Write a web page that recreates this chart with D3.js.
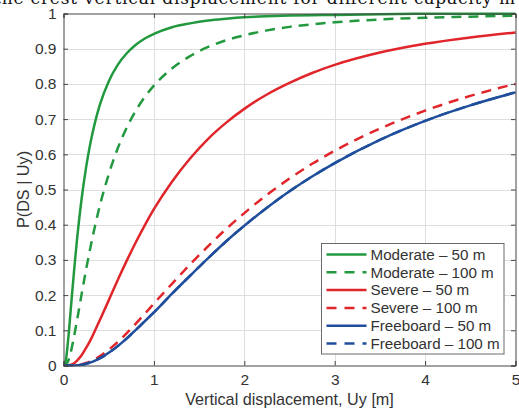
<!DOCTYPE html>
<html>
<head>
<meta charset="utf-8">
<script src="https://cdn.jsdelivr.net/npm/d3@7"></script>
<style>
  html, body { margin: 0; padding: 0; background: #ffffff; }
  svg { display: block; }
</style>
</head>
<body>
<svg id="chart" width="519" height="411"></svg>
<script>
// Vertical displacement samples (m)
const displacement = [0, 0.025, 0.05, 0.075, 0.1, 0.125, 0.15, 0.2, 0.25, 0.3, 0.35, 0.4,
  0.5, 0.6, 0.7, 0.8, 0.9, 1.0, 1.2, 1.4, 1.6, 1.8, 2.0, 2.25, 2.5, 2.75, 3.0, 3.5, 4.0, 4.5, 5.0];

// Exceedance probability P(DS | Uy) for each damage state and capacity
const moderate50 = [0, 0.014, 0.069, 0.143, 0.219, 0.292, 0.359, 0.473, 0.563, 0.635, 0.692, 0.739,
  0.807, 0.854, 0.887, 0.911, 0.929, 0.942, 0.961, 0.972, 0.980, 0.985, 0.989, 0.992, 0.994, 0.995, 0.996, 0.998, 0.999, 0.999, 0.999];
const moderate100 = [0, 0.001, 0.012, 0.032, 0.061, 0.094, 0.129, 0.202, 0.273, 0.338, 0.398, 0.452,
  0.543, 0.617, 0.676, 0.724, 0.763, 0.795, 0.844, 0.879, 0.905, 0.924, 0.938, 0.952, 0.962, 0.969, 0.975, 0.983, 0.988, 0.991, 0.994];
const severe50 = [0, 0, 0, 0.002, 0.004, 0.008, 0.014, 0.029, 0.050, 0.073, 0.100, 0.128,
  0.185, 0.243, 0.298, 0.350, 0.399, 0.444, 0.522, 0.588, 0.644, 0.690, 0.729, 0.770, 0.803, 0.831, 0.854, 0.889, 0.914, 0.932, 0.946];
const severe100 = [0, 0, 0, 0, 0, 0.001, 0.001, 0.003, 0.007, 0.012, 0.018, 0.026,
  0.045, 0.067, 0.092, 0.119, 0.147, 0.176, 0.232, 0.287, 0.339, 0.388, 0.433, 0.485, 0.531, 0.573, 0.610, 0.673, 0.724, 0.766, 0.800];
const freeboard50 = [0, 0, 0, 0, 0, 0, 0.001, 0.002, 0.005, 0.009, 0.014, 0.020,
  0.036, 0.055, 0.077, 0.101, 0.126, 0.151, 0.204, 0.255, 0.305, 0.353, 0.397, 0.448, 0.495, 0.537, 0.575, 0.641, 0.695, 0.739, 0.776];
const freeboard100 = [0, 0, 0, 0, 0, 0, 0.001, 0.002, 0.005, 0.009, 0.014, 0.020,
  0.036, 0.055, 0.077, 0.101, 0.126, 0.151, 0.204, 0.255, 0.305, 0.353, 0.397, 0.448, 0.495, 0.537, 0.575, 0.641, 0.695, 0.739, 0.776];

const seriesNames = ["Moderate \u2013 50 m", "Moderate \u2013 100 m", "Severe \u2013 50 m",
  "Severe \u2013 100 m", "Freeboard \u2013 50 m", "Freeboard \u2013 100 m"];
const seriesValues = [moderate50, moderate100, severe50, severe100, freeboard50, freeboard100];
const seriesColors = ["#22993f", "#22993f", "#e0262b", "#e0262b", "#1f4f9c", "#1f4f9c"];
const seriesDashed = [false, true, false, true, false, true];

const xTicks = [0, 1, 2, 3, 4, 5];
const xTickLabels = ["0", "1", "2", "3", "4", "5"];
const yTicks = [0, 0.1, 0.2, 0.3, 0.4, 0.5, 0.6, 0.7, 0.8, 0.9, 1];
const yTickLabels = ["0", "0.1", "0.2", "0.3", "0.4", "0.5", "0.6", "0.7", "0.8", "0.9", "1"];

const svg = d3.select("#chart");
const W = 519, H = 411;
const margin = { left: 63.5, right: 3.5, top: 13.5, bottom: 45.5 };
const pw = W - margin.left - margin.right;
const ph = H - margin.top - margin.bottom;

const x = d3.scaleLinear().domain([0, 5]).range([margin.left, margin.left + pw]);
const y = d3.scaleLinear().domain([0, 1]).range([margin.top + ph, margin.top]);

const font = "'Liberation Sans', Arial, Helvetica, sans-serif";
const axisColor = "#444444";
const textColor = "#333333";

// Caption line running off the top edge
svg.append("text")
  .attr("x", -6).attr("y", 3.5)
  .attr("textLength", 521).attr("lengthAdjust", "spacing")
  .attr("font-family", "'DejaVu Serif', 'Liberation Serif', serif")
  .attr("font-size", 17)
  .attr("fill", "#111")
  .text("the crest vertical displacement for different capacity m");

// Plot background
svg.append("rect")
  .attr("x", margin.left).attr("y", margin.top)
  .attr("width", pw).attr("height", ph)
  .attr("fill", "#ffffff");

// Grid
const grid = svg.append("g").attr("stroke", "#dedede").attr("stroke-width", 1);
grid.selectAll("line.gx").data(xTicks.slice(1, -1)).join("line")
  .attr("x1", d => Math.round(x(d)) + 0.5).attr("x2", d => Math.round(x(d)) + 0.5)
  .attr("y1", margin.top).attr("y2", margin.top + ph);
grid.selectAll("line.gy").data(yTicks.slice(1, -1)).join("line")
  .attr("y1", d => Math.round(y(d)) + 0.5).attr("y2", d => Math.round(y(d)) + 0.5)
  .attr("x1", margin.left).attr("x2", margin.left + pw);

// Curves
svg.append("clipPath").attr("id", "plotClip")
  .append("rect").attr("x", margin.left).attr("y", margin.top - 2)
  .attr("width", pw + 1).attr("height", ph + 3);

const line = d3.line()
  .x(d => x(d[0]))
  .y(d => y(d[1]))
  .curve(d3.curveMonotoneX);

const curves = svg.append("g").attr("clip-path", "url(#plotClip)");
seriesValues.forEach((vals, i) => {
  const pts = displacement.map((dx, k) => [dx, vals[k]]);
  curves.append("path")
    .datum(pts)
    .attr("d", line)
    .attr("fill", "none")
    .attr("stroke", seriesColors[i])
    .attr("stroke-width", 2.5)
    .attr("stroke-linejoin", "round")
    .attr("stroke-dasharray", seriesDashed[i] ? "10,7" : null);
});

// Axes with inward ticks on all four sides
const tickLen = 4.5;
const axBottom = d3.axisBottom(x).tickValues(xTicks).tickSize(-tickLen).tickPadding(8)
  .tickFormat((d, i) => xTickLabels[i]);
const axTop = d3.axisTop(x).tickValues(xTicks).tickSize(-tickLen).tickFormat("");
const axLeft = d3.axisLeft(y).tickValues(yTicks).tickSize(-tickLen).tickPadding(7)
  .tickFormat((d, i) => yTickLabels[i]);
const axRight = d3.axisRight(y).tickValues(yTicks).tickSize(-tickLen).tickFormat("");

function styleAxis(g) {
  g.select(".domain").attr("stroke", axisColor).attr("stroke-width", 1);
  g.selectAll(".tick line").attr("stroke", axisColor).attr("stroke-width", 1);
  g.selectAll(".tick text").attr("fill", textColor).attr("font-family", font).attr("font-size", 15.5);
}

svg.append("g").attr("transform", `translate(0,${margin.top + ph})`).call(axBottom).call(styleAxis);
svg.append("g").attr("transform", `translate(0,${margin.top})`).call(axTop).call(styleAxis);
svg.append("g").attr("transform", `translate(${margin.left},0)`).call(axLeft).call(styleAxis);
svg.append("g").attr("transform", `translate(${margin.left + pw},0)`).call(axRight).call(styleAxis);
svg.selectAll(".domain").attr("fill", "none");

// Axis titles
svg.append("text")
  .attr("x", margin.left + pw / 2).attr("y", 405)
  .attr("text-anchor", "middle")
  .attr("font-family", font).attr("font-size", 16.2).attr("fill", textColor)
  .text("Vertical displacement, Uy [m]");

svg.append("text")
  .attr("transform", `translate(28.5,${margin.top + ph / 2}) rotate(-90)`)
  .attr("text-anchor", "middle")
  .attr("font-family", font).attr("font-size", 16.2).attr("fill", textColor)
  .text("P(DS | Uy)");

// Legend
const lg = { x: 321.5, y: 243.5, w: 182.5, h: 110.5, row: 17.8 };
const legend = svg.append("g");
legend.append("rect")
  .attr("x", lg.x).attr("y", lg.y).attr("width", lg.w).attr("height", lg.h)
  .attr("fill", "#ffffff").attr("stroke", "#6a6a6a").attr("stroke-width", 1);
seriesNames.forEach((name, i) => {
  const cy = lg.y + 11 + i * lg.row;
  legend.append("line")
    .attr("x1", lg.x + 5).attr("x2", lg.x + 45)
    .attr("y1", cy).attr("y2", cy)
    .attr("stroke", seriesColors[i]).attr("stroke-width", 2.5)
    .attr("stroke-dasharray", seriesDashed[i] ? "10,8" : null);
  legend.append("text")
    .attr("x", lg.x + 49).attr("y", cy + 5.3)
    .attr("font-family", font).attr("font-size", 15.2).attr("fill", textColor)
    .text(name);
});
</script>
</body>
</html>
